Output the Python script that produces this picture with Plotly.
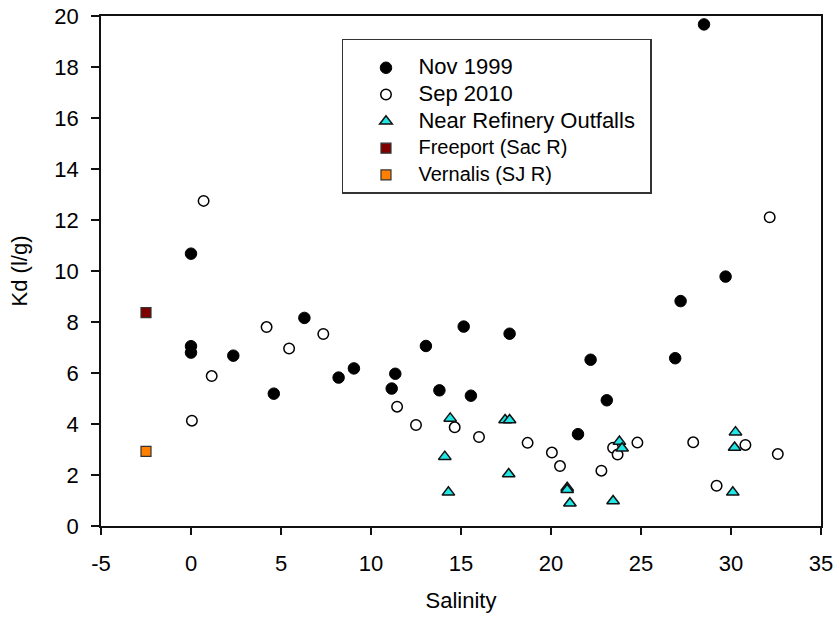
import plotly.graph_objects as go

# ---- data ----
nov_x = [0, 0, 0, 2.35, 4.6, 6.3, 8.2, 9.05, 11.15, 11.35, 13.05, 13.8, 15.15, 15.55,
         17.7, 21.5, 22.2, 23.1, 26.9, 27.2, 28.5, 29.7]
nov_y = [10.68, 7.05, 6.8, 6.68, 5.19, 8.16, 5.82, 6.18, 5.39, 5.97, 7.06, 5.32, 7.82, 5.11,
         7.54, 3.6, 6.52, 4.93, 6.58, 8.82, 19.67, 9.78]

sep_x = [0.05, 0.7, 1.15, 4.2, 5.45, 7.35, 11.45, 12.5, 14.65, 16.0, 18.7, 20.05, 20.5,
         22.8, 23.45, 23.7, 24.8, 27.9, 29.2, 30.8, 32.15, 32.6]
sep_y = [4.13, 12.75, 5.88, 7.80, 6.96, 7.53, 4.68, 3.96, 3.87, 3.49, 3.26, 2.88, 2.35,
         2.17, 3.07, 2.8, 3.27, 3.28, 1.58, 3.18, 12.11, 2.82]

ref_x = [14.1, 14.3, 14.4, 17.45, 17.7, 17.65, 20.9, 20.9, 21.05, 23.45, 23.8, 23.95,
         30.1, 30.2, 30.25]
ref_y = [2.72, 1.32, 4.22, 4.16, 4.16, 2.04, 1.5, 1.42, 0.89, 0.98, 3.31, 3.05,
         1.32, 3.08, 3.68]

freeport_x = [-2.5]
freeport_y = [8.37]
vernalis_x = [-2.5]
vernalis_y = [2.93]

names = ["Nov 1999", "Sep 2010", "Near Refinery Outfalls", "Freeport (Sac R)", "Vernalis (SJ R)"]
x_ticks = [-5, 0, 5, 10, 15, 20, 25, 30, 35]
x_ticktext = ["-5", "0", "5", "10", "15", "20", "25", "30", "35"]
y_ticks = [0, 2, 4, 6, 8, 10, 12, 14, 16, 18, 20]

FONT = "Liberation Sans, Arial, sans-serif"


def lbl(t, size=22):
    return '<span style="font-size:%dpx">%s</span>' % (size, t)


fig = go.Figure()
fig.add_trace(go.Scatter(x=nov_x, y=nov_y, mode="markers", name=lbl(names[0]), legendgroup="a",
                         marker=dict(symbol="circle", size=11.5, color="black",
                                     line=dict(color="black", width=1))))
fig.add_trace(go.Scatter(x=sep_x, y=sep_y, mode="markers", name=lbl(names[1]), legendgroup="b",
                         marker=dict(symbol="circle", size=10.5, color="white",
                                     line=dict(color="black", width=1.5))))
fig.add_trace(go.Scatter(x=ref_x, y=ref_y, mode="markers", name=lbl(names[2]), legendgroup="c",
                         marker=dict(symbol="triangle-up", size=11, color="#22E5E5",
                                     line=dict(color="#111111", width=1.5))))
fig.add_trace(go.Scatter(x=freeport_x, y=freeport_y, mode="markers", name=lbl(names[3], 20),
                         legendgroup="d",
                         marker=dict(symbol="square", size=10, color="#800000",
                                     line=dict(color="#333333", width=1.2))))
fig.add_trace(go.Scatter(x=vernalis_x, y=vernalis_y, mode="markers", name=lbl(names[4], 20),
                         legendgroup="e",
                         marker=dict(symbol="square", size=10, color="#FF8000",
                                     line=dict(color="#333333", width=1.2))))

axis_common = dict(showgrid=False, zeroline=False, showline=True, linecolor="#111111",
                   linewidth=1.5, mirror=True, ticks="outside", tickcolor="#111111",
                   tickwidth=1.5, tickfont=dict(family=FONT, size=22, color="black"))

fig.update_xaxes(range=[-5, 35], tickvals=x_ticks, ticktext=x_ticktext, ticklen=7,
                 ticklabelstandoff=10,
                 title=dict(text="Salinity", font=dict(family=FONT, size=22, color="black"),
                            standoff=17),
                 **axis_common)
fig.update_yaxes(range=[0, 20], tickvals=y_ticks, ticklen=8, ticklabelstandoff=8,
                 title=dict(text="Kd (l/g)", font=dict(family=FONT, size=22, color="black"),
                            standoff=21),
                 **axis_common)

# blank legend title: only reserves space so the box matches the reference size
legend_spacer = "\u00a0" * 136

fig.update_layout(
    width=837, height=617,
    margin=dict(l=101, r=16, t=16, b=91, autoexpand=False),
    paper_bgcolor="white", plot_bgcolor="white",
    font=dict(family=FONT, size=22, color="black"),
    showlegend=True,
    legend=dict(x=0.3347, y=0.955, xanchor="left", yanchor="top",
                bordercolor="#333333", borderwidth=1.5, bgcolor="white",
                font=dict(family=FONT, size=16, color="black"),
                title=dict(text=legend_spacer, font=dict(family=FONT, size=8)),
                tracegroupgap=3, traceorder="grouped", indentation=10, itemwidth=55),
)

fig.write_html("out.html")
